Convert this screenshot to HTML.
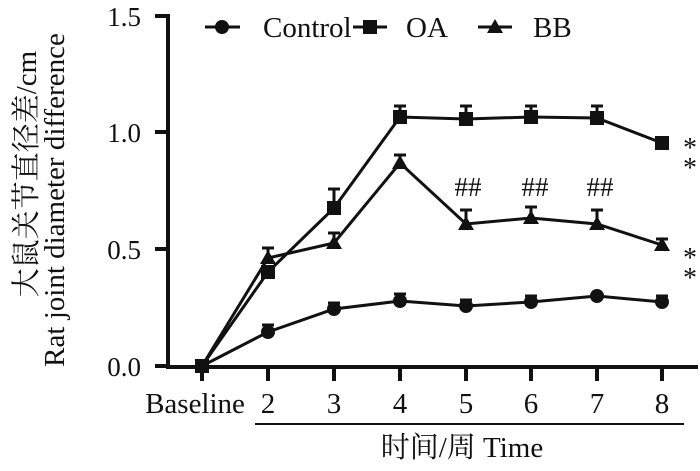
<!DOCTYPE html><html><head><style>body{margin:0;background:#fff}svg text{font-family:"Liberation Serif","Noto Serif CJK SC",serif;fill:#111}</style></head><body>
<svg width="700" height="466" viewBox="0 0 700 466" xmlns="http://www.w3.org/2000/svg">
<g stroke="#111" stroke-width="4" fill="none">
<path d="M168 14V367H698"/>
<path d="M155 16H168M155 132H168M155 249H168M155 366H168"/>
<path d="M202 367V381M268 367V381M334 367V381M400 367V381M466 367V381M531 367V381M597 367V381M662 367V381"/>
</g>
<line x1="255" y1="424" x2="684" y2="424" stroke="#111" stroke-width="2"/>
<g font-size="27" text-anchor="end"><text x="141" y="26">1.5</text><text x="141" y="142">1.0</text><text x="141" y="259">0.5</text><text x="141" y="376">0.0</text></g>
<g font-size="29" text-anchor="middle"><text x="195" y="413">Baseline</text><text x="268" y="413">2</text><text x="334" y="413">3</text><text x="400" y="413">4</text><text x="466" y="413">5</text><text x="531" y="413">6</text><text x="597" y="413">7</text><text x="662" y="413">8</text>
<text x="462" y="457">时间/周 Time</text></g>
<text transform="translate(36,174) rotate(-90)" font-size="29" text-anchor="middle">大鼠关节直径差/cm</text>
<text transform="translate(64,200) rotate(-90)" font-size="29" text-anchor="middle">Rat joint diameter difference</text>
<g stroke="#111" stroke-width="3" fill="none">
<path d="M202 366L268 332L334 309L400 301L466 306L531 302L597 296L662 302"/>
<path d="M202 366L268 272L334 208L400 117L466 119L531 117L597 118L662 143"/>
<path d="M202 366L268 258L334 243L400 163L466 224L531 218L597 224L662 245"/>
<path d="M268 332V325M262 325H274M334 309V303M328 303H340M400 301V294M394 294H406M466 306V300M460 300H472M531 302V296M525 296H537M662 302V296M656 296H668"/>
<path d="M334 208V189M328 189H340M400 117V106M394 106H406M466 119V106M460 106H472M531 117V106M525 106H537M597 118V106M591 106H603"/>
<path d="M268 258V248M262 248H274M334 243V233M328 233H340M400 163V155M394 155H406M466 224V210M460 210H472M531 218V207M525 207H537M597 224V210M591 210H603M662 245V239M656 239H668"/>
</g>
<g fill="#111">
<circle cx="202" cy="366" r="7"/><circle cx="268" cy="332" r="7"/><circle cx="334" cy="309" r="7"/><circle cx="400" cy="301" r="7"/><circle cx="466" cy="306" r="7"/><circle cx="531" cy="302" r="7"/><circle cx="597" cy="296" r="7"/><circle cx="662" cy="302" r="7"/>
<g transform="translate(-7,-7)"><rect x="202" y="366" width="14" height="14"/><rect x="268" y="272" width="14" height="14"/><rect x="334" y="208" width="14" height="14"/><rect x="400" y="117" width="14" height="14"/><rect x="466" y="119" width="14" height="14"/><rect x="531" y="117" width="14" height="14"/><rect x="597" y="118" width="14" height="14"/><rect x="662" y="143" width="14" height="14"/></g>
<path d="M268 250l8 14h-16zM334 235l8 14h-16zM400 155l8 14h-16zM466 216l8 14h-16zM531 210l8 14h-16zM597 216l8 14h-16zM662 237l8 14h-16z"/>
</g>
<g font-size="27" text-anchor="middle"><text x="468" y="196">##</text><text x="535" y="196">##</text><text x="600" y="196">##</text></g>
<g font-size="28" text-anchor="middle"><text x="690" y="157">*</text><text x="690" y="177">*</text><text x="690" y="267">*</text><text x="690" y="287">*</text></g>
<g stroke="#111" stroke-width="3"><path d="M205 27H240M353 27H387M478 27H512"/></g>
<circle cx="222" cy="27" r="7" fill="#111"/><rect x="363" y="20" width="14" height="14" fill="#111"/><path d="M495 19l8 14h-16z" fill="#111"/>
<g font-size="29"><text x="263" y="37">Control</text><text x="406" y="37">OA</text><text x="533" y="37">BB</text></g>
</svg></body></html>
